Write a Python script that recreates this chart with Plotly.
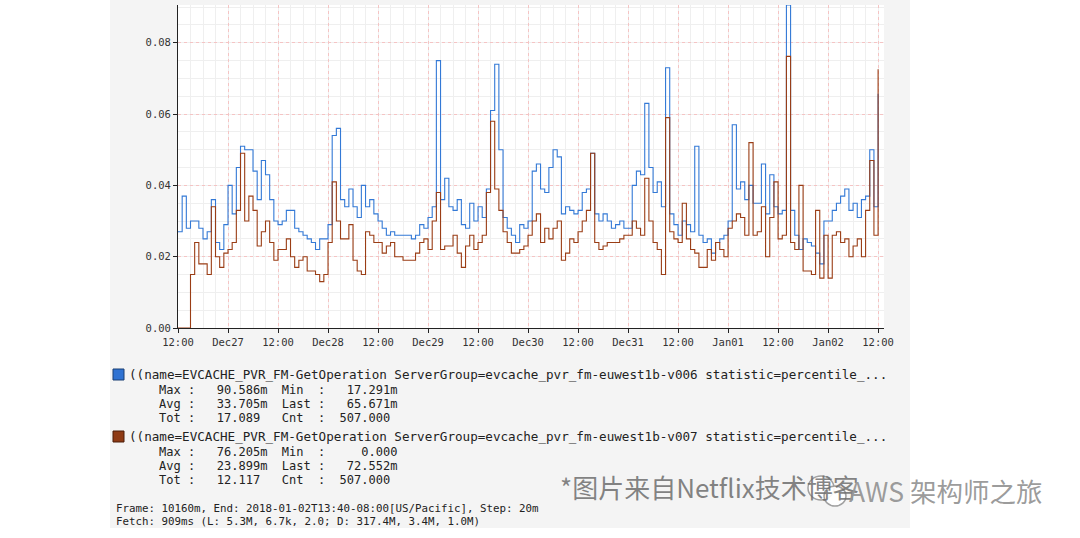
import plotly.graph_objects as go
import pandas as pd

# ---------------- data ----------------
start_time = "2017-12-26 12:00"
step = "h"

blue_vals = [
    0.027, 0.037, 0.028, 0.030, 0.030, 0.028, 0.025, 0.027, 0.036, 0.024,
    0.022, 0.029, 0.040, 0.032, 0.045, 0.051, 0.050, 0.050, 0.044, 0.036,
    0.047, 0.043, 0.036, 0.030, 0.029, 0.030, 0.033, 0.033, 0.028, 0.027,
    0.026, 0.025, 0.024, 0.022, 0.025, 0.025, 0.029, 0.054, 0.056, 0.036,
    0.034, 0.039, 0.034, 0.031, 0.040, 0.034, 0.036, 0.032, 0.030, 0.028,
    0.026, 0.027, 0.026, 0.026, 0.026, 0.026, 0.025, 0.026, 0.029, 0.028,
    0.031, 0.034, 0.075, 0.036, 0.042, 0.034, 0.033, 0.036, 0.029, 0.028,
    0.035, 0.030, 0.034, 0.031, 0.039, 0.061, 0.074, 0.050, 0.031, 0.028,
    0.026, 0.024, 0.029, 0.028, 0.030, 0.044, 0.046, 0.039, 0.038, 0.045,
    0.050, 0.048, 0.032, 0.034, 0.033, 0.032, 0.033, 0.038, 0.039, 0.049,
    0.032, 0.030, 0.032, 0.030, 0.028, 0.029, 0.030, 0.028, 0.028, 0.040,
    0.044, 0.043, 0.063, 0.045, 0.038, 0.041, 0.034, 0.073, 0.032, 0.029,
    0.026, 0.030, 0.029, 0.027, 0.051, 0.026, 0.024, 0.025, 0.021, 0.024,
    0.025, 0.026, 0.030, 0.057, 0.039, 0.041, 0.036, 0.040, 0.035, 0.035,
    0.046, 0.032, 0.043, 0.034, 0.032, 0.033, 0.0906, 0.033, 0.026, 0.022,
    0.025, 0.024, 0.023, 0.021, 0.018, 0.030, 0.030, 0.033, 0.035, 0.037,
    0.039, 0.033, 0.035, 0.031, 0.036, 0.037, 0.050, 0.034, 0.0657,
]

brown_vals = [
    0.0, 0.0, 0.0, 0.015, 0.024, 0.018, 0.018, 0.015, 0.034, 0.020,
    0.017, 0.021, 0.022, 0.024, 0.033, 0.049, 0.030, 0.037, 0.033, 0.023,
    0.027, 0.030, 0.024, 0.019, 0.022, 0.022, 0.025, 0.020, 0.017, 0.019,
    0.020, 0.016, 0.016, 0.015, 0.013, 0.015, 0.024, 0.041, 0.030, 0.025,
    0.025, 0.029, 0.019, 0.016, 0.015, 0.027, 0.026, 0.024, 0.024, 0.021,
    0.023, 0.024, 0.020, 0.020, 0.019, 0.019, 0.019, 0.021, 0.024, 0.025,
    0.022, 0.030, 0.038, 0.022, 0.023, 0.023, 0.026, 0.021, 0.017, 0.023,
    0.026, 0.022, 0.024, 0.026, 0.038, 0.058, 0.039, 0.033, 0.027, 0.024,
    0.021, 0.021, 0.022, 0.023, 0.026, 0.030, 0.032, 0.024, 0.028, 0.025,
    0.028, 0.030, 0.019, 0.021, 0.025, 0.024, 0.027, 0.030, 0.033, 0.049,
    0.024, 0.022, 0.023, 0.024, 0.024, 0.024, 0.025, 0.026, 0.026, 0.030,
    0.028, 0.026, 0.042, 0.030, 0.024, 0.022, 0.015, 0.059, 0.027, 0.025,
    0.024, 0.035, 0.025, 0.022, 0.021, 0.017, 0.017, 0.022, 0.019, 0.024,
    0.022, 0.020, 0.028, 0.030, 0.032, 0.031, 0.026, 0.052, 0.026, 0.027,
    0.034, 0.020, 0.031, 0.041, 0.025, 0.026, 0.0762, 0.024, 0.022, 0.040,
    0.016, 0.016, 0.015, 0.033, 0.014, 0.026, 0.014, 0.026, 0.027, 0.024,
    0.025, 0.020, 0.023, 0.025, 0.020, 0.033, 0.047, 0.026, 0.0726,
]

x_tick_labels = ["12:00", "Dec27", "12:00", "Dec28", "12:00", "Dec29", "12:00",
                 "Dec30", "12:00", "Dec31", "12:00", "Jan01", "12:00", "Jan02", "12:00"]
y_tick_vals = [0.0, 0.02, 0.04, 0.06, 0.08]

series_names = [
    "((name=EVCACHE_PVR_FM-GetOperation ServerGroup=evcache_pvr_fm-euwest1b-v006 statistic=percentile_...",
    "((name=EVCACHE_PVR_FM-GetOperation ServerGroup=evcache_pvr_fm-euwest1b-v007 statistic=percentile_...",
]
stats_blue = ["Max :   90.586m  Min  :   17.291m",
              "Avg :   33.705m  Last :   65.671m",
              "Tot :   17.089   Cnt  :  507.000"]
stats_brown = ["Max :   76.205m  Min  :     0.000",
               "Avg :   23.899m  Last :   72.552m",
               "Tot :   12.117   Cnt  :  507.000"]
footer_lines = ["Frame: 10160m, End: 2018-01-02T13:40-08:00[US/Pacific], Step: 20m",
                "Fetch: 909ms (L: 5.3M, 6.7k, 2.0; D: 317.4M, 3.4M, 1.0M)"]
watermark_1 = "*图片来自Netflix技术博客"
watermark_2 = "AWS 架构师之旅"

# ---------------- figure ----------------
W, H = 1080, 538
L, R, T, B = 178, 196, 5, 210
PW, PH = W - L - R, H - T - B


def px(x):
    return (x - L) / PW


def py(y):
    return (H - B - y) / PH


times = pd.date_range(start_time, periods=len(blue_vals), freq=step)
tick_times = pd.date_range(start_time, periods=len(x_tick_labels), freq="12h")

BLUE = "#3379d6"
BROWN = "#9a3d15"
MONO = "DejaVu Sans Mono"

fig = go.Figure()
fig.add_trace(go.Scatter(x=times, y=blue_vals, mode="lines", line=dict(color=BLUE, width=1.1, shape="hv"),
                         name=series_names[0], showlegend=False))
fig.add_trace(go.Scatter(x=times, y=brown_vals, mode="lines", line=dict(color=BROWN, width=1.1, shape="hv"),
                         name=series_names[1], showlegend=False))

x_end = pd.Timestamp("2018-01-02 13:25")

fig.update_layout(
    width=W, height=H,
    margin=dict(l=L, r=R, t=T, b=B, pad=0),
    paper_bgcolor="white",
    plot_bgcolor="white",
    font=dict(family=MONO, size=10.5, color="#333333"),
    xaxis=dict(
        range=[times[0], x_end],
        tickmode="array", tickvals=tick_times, ticktext=x_tick_labels,
        showgrid=True, gridcolor="#f5c4c4", griddash="dot", gridwidth=1,
        minor=dict(tickmode="linear", tick0=times[0], dtick=3 * 3600 * 1000,
                   showgrid=True, gridcolor="#efefef", gridwidth=1, griddash="solid", ticks=""),
        showline=True, linecolor="#222222", linewidth=1,
        ticks="outside", ticklen=4, tickcolor="#222222",
        tickfont=dict(family=MONO, size=10.5, color="#333333"),
        zeroline=False, fixedrange=True,
    ),
    yaxis=dict(
        range=[0, 0.0906],
        tickmode="array", tickvals=y_tick_vals, tickformat=".2f",
        showgrid=True, gridcolor="#f5c4c4", griddash="dot", gridwidth=1,
        minor=dict(tickmode="linear", tick0=0, dtick=0.005,
                   showgrid=True, gridcolor="#efefef", gridwidth=1, griddash="solid", ticks=""),
        showline=True, linecolor="#222222", linewidth=1,
        ticks="outside", ticklen=4, tickcolor="#222222",
        tickfont=dict(family=MONO, size=10.5, color="#333333"),
        zeroline=False, fixedrange=True,
    ),
)

shapes = [
    # grey panel behind everything
    dict(type="rect", xref="paper", yref="paper", x0=px(110), x1=px(910), y0=py(528), y1=py(0),
         fillcolor="#f4f4f4", line=dict(width=0), layer="below"),
    # white plotting area
    dict(type="rect", xref="paper", yref="paper", x0=0, x1=1, y0=0, y1=1,
         fillcolor="white", line=dict(width=0), layer="below"),
    # legend swatches
    dict(type="rect", xref="paper", yref="paper", x0=px(113), x1=px(124), y0=py(380), y1=py(369),
         fillcolor="#2f72d2", line=dict(color="#1a3f73", width=1)),
    dict(type="rect", xref="paper", yref="paper", x0=px(113), x1=px(124), y0=py(442), y1=py(431),
         fillcolor="#8e3a14", line=dict(color="#4a1c08", width=1)),
]

annotations = []


def add_text(x, y, text, size, color="#222222", family=MONO):
    annotations.append(dict(xref="paper", yref="paper", x=px(x), y=py(y), text=text,
                            showarrow=False, xanchor="left", yanchor="middle",
                            font=dict(family=family, size=size, color=color)))


add_text(127, 374.5, series_names[0], 12.6)
for i, s in enumerate(stats_blue):
    add_text(157, 389.5 + 14 * i, s.replace(" ", "&nbsp;"), 12)
add_text(127, 436.5, series_names[1], 12.6)
for i, s in enumerate(stats_brown):
    add_text(157, 451.5 + 14 * i, s.replace(" ", "&nbsp;"), 12)
for i, s in enumerate(footer_lines):
    add_text(114, 508 + 13 * i, s.replace(" ", "&nbsp;"), 10.8)

add_text(558, 487, watermark_1, 26, color="rgba(110,110,110,0.85)", family="Noto Sans CJK SC")

# wechat-like icon
shapes.append(dict(type="circle", xref="paper", yref="paper", x0=px(808), x1=px(834), y0=py(500), y1=py(476),
                   fillcolor="rgba(255,255,255,0.9)", line=dict(color="#a0a0a0", width=1.5)))
shapes.append(dict(type="circle", xref="paper", yref="paper", x0=px(824), x1=px(846), y0=py(506), y1=py(486),
                   fillcolor="rgba(255,255,255,0.9)", line=dict(color="#a0a0a0", width=1.5)))

add_text(847, 490, watermark_2, 26.5, color="rgba(150,150,150,0.95)", family="Noto Sans CJK SC")

fig.update_layout(shapes=shapes, annotations=annotations)

fig.write_html("out.html", post_script="document.body.style.margin='0';",
               config={"displayModeBar": False})
